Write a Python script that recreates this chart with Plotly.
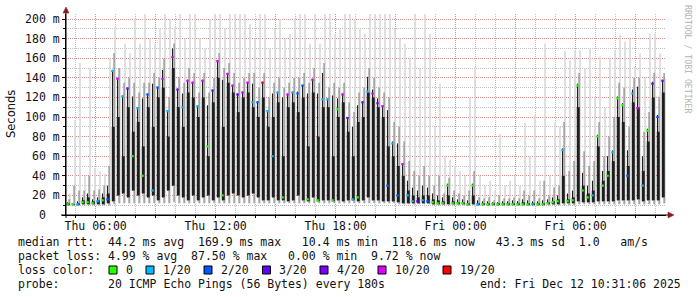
import plotly.graph_objects as go
import pandas as pd

# ---------------- data ----------------
START = "2025-12-11 04:31:06"
END = "2025-12-12 10:31:06"
STEP = pd.Timedelta(minutes=15)          # one bucket = 15 minutes

# top of outer (light) smoke = max ping, ms
top = [22, 97, 155, 40, 150, 48, 45, 42, 160, 192,
       150, 175, 165, 200, 175, 206, 180, 175, 190, 206,
       200, 192, 206, 180, 206, 206, 180, 170, 200, 206,
       206, 190, 206, 206, 206, 206, 195, 180, 206, 206,
       170, 190, 200, 180, 185, 200, 206, 206, 175, 206,
       175, 206, 206, 185, 190, 206, 206, 200, 190, 185,
       206, 206, 206, 206, 206, 190, 180, 175, 160, 206,
       150, 206, 185, 90, 134, 60, 56, 50, 45, 40,
       120, 151, 40, 30, 35, 25, 83, 30, 35, 40,
       30, 94, 60, 102, 35, 175, 40, 94, 90, 167,
       158, 168, 168, 150, 170, 120, 162, 110, 160, 168,
       184, 177, 180, 151, 165, 140, 185, 185, 165, 140]
# top of middle (grey) smoke, ms
mid = [16, 30, 25, 25, 40, 25, 26, 30, 50, 165,
       150, 135, 140, 135, 125, 135, 135, 145, 140, 160,
       120, 175, 140, 135, 150, 145, 125, 145, 125, 140,
       165, 150, 155, 145, 135, 140, 145, 145, 130, 145,
       120, 135, 140, 130, 135, 140, 140, 145, 135, 150,
       135, 155, 130, 135, 130, 135, 115, 105, 125, 130,
       150, 140, 130, 125, 120, 95, 90, 75, 55, 45,
       40, 50, 40, 30, 40, 22, 38, 25, 22, 20,
       25, 45, 18, 17, 18, 15, 20, 17, 17, 18,
       17, 25, 20, 25, 17, 35, 20, 28, 30, 95,
       45, 55, 145, 65, 50, 55, 95, 60, 80, 100,
       135, 130, 90, 140, 140, 85, 105, 145, 120, 145]
# dark core of the smoke: highest reach, bulk top, bottom (ms)
dark_hi = [13, 12, 14, 18, 22, 16, 18, 22, 30, 148,
           140, 122, 130, 121, 110, 119, 124, 134, 131, 148,
           107, 170, 129, 124, 138, 136, 112, 138, 112, 128,
           158, 138, 145, 133, 124, 126, 136, 134, 116, 136,
           107, 124, 126, 120, 124, 126, 126, 133, 124, 139,
           124, 145, 119, 122, 119, 124, 100, 90, 112, 116,
           141, 128, 119, 112, 107, 75, 73, 53, 35, 28,
           25, 30, 28, 22, 20, 18, 32, 18, 16, 16,
           15, 32, 15, 14, 14, 13, 13, 14, 14, 15,
           14, 16, 15, 14, 14, 15, 16, 18, 20, 68,
           22, 25, 134, 43, 30, 35, 82, 45, 60, 66,
           121, 114, 66, 128, 131, 60, 88, 136, 102, 138]
dark_body = [12, 11, 12, 15, 18, 14, 15, 18, 22, 90,
             100, 60, 110, 85, 95, 70, 110, 90, 120, 130,
             80, 150, 110, 90, 125, 120, 100, 120, 60, 115,
             140, 90, 135, 125, 105, 120, 125, 110, 100, 120,
             90, 100, 115, 60, 110, 115, 105, 120, 70, 125,
             80, 110, 110, 60, 100, 115, 85, 60, 95, 100,
             125, 120, 110, 100, 70, 60, 50, 40, 25, 20,
             18, 20, 20, 16, 15, 14, 20, 14, 13, 13,
             12, 20, 12, 12, 12, 12, 12, 12, 12, 12,
             12, 13, 12, 12, 12, 12, 13, 14, 16, 40,
             16, 18, 110, 30, 22, 25, 70, 35, 45, 55,
             100, 95, 50, 115, 110, 45, 75, 120, 85, 125]
dark_lo = [10, 10, 10, 11, 11, 11, 11, 11, 12, 14,
           20, 22, 18, 25, 20, 22, 18, 20, 15, 18,
           25, 30, 20, 18, 15, 20, 15, 18, 20, 15,
           18, 15, 20, 22, 20, 18, 20, 22, 18, 15,
           15, 18, 15, 15, 14, 15, 20, 15, 14, 18,
           14, 15, 15, 14, 15, 14, 15, 15, 14, 15,
           18, 15, 15, 14, 14, 14, 13, 12, 12, 12,
           12, 12, 12, 11, 11, 11, 11, 11, 11, 11,
           10, 11, 10, 10, 10, 10, 10, 10, 10, 10,
           10, 10, 10, 10, 10, 10, 11, 11, 11, 12,
           12, 12, 14, 13, 13, 13, 14, 14, 14, 14,
           15, 15, 15, 15, 16, 14, 15, 15, 15, 18]
# min ping, ms
low = [10, 10, 10, 10, 10, 10, 10, 10, 10, 11,
       12, 12, 12, 12, 12, 12, 12, 12, 12, 12,
       12, 13, 12, 12, 12, 12, 12, 12, 12, 12,
       12, 12, 12, 12, 12, 12, 12, 12, 12, 12,
       12, 12, 12, 12, 12, 12, 12, 12, 12, 12,
       12, 12, 12, 12, 12, 12, 12, 12, 12, 12,
       12, 12, 12, 12, 12, 12, 11, 11, 11, 11,
       11, 11, 11, 10, 10, 10, 10, 10, 10, 10,
       10, 10, 10, 10, 10, 10, 10, 10, 10, 10,
       10, 10, 10, 10, 10, 10, 10, 10, 10, 10,
       10, 10, 11, 11, 11, 11, 11, 11, 11, 11,
       11, 11, 11, 11, 11, 11, 11, 11, 11, 12]
# median rtt, ms
median = [11, 11, 11, 13, 13, 12, 14, 15, 16, 147,
          139, 121, 129, 60, 109, 40, 123, 25, 130, 139,
          106, 161, 128, 110, 137, 135, 111, 137, 70, 127,
          157, 20, 144, 132, 123, 125, 135, 115, 115, 135,
          106, 60, 125, 18, 123, 125, 124, 132, 16, 138,
          15, 118, 118, 15, 108, 123, 99, 16, 18, 115,
          126, 124, 114, 111, 30, 73, 20, 52, 20, 14,
          14, 15, 14, 13, 12, 12, 30, 12, 12, 12,
          11, 30, 11, 11, 11, 11, 11, 11, 11, 11,
          11, 11, 11, 11, 11, 11, 12, 13, 14, 66,
          14, 15, 132, 25, 18, 20, 80, 30, 40, 64,
          119, 112, 40, 124, 109, 30, 86, 134, 100, 137]
# loss class index per bucket (into loss_labels)
loss = [0, 0, 1, 0, 0, 0, 1, 0, 2, 1,
        5, 1, 4, 0, 1, 0, 2, 1, 2, 5,
        1, 5, 4, 1, 5, 5, 1, 5, 0, 4,
        5, 0, 5, 5, 3, 5, 5, 1, 2, 6,
        1, 1, 1, 0, 5, 1, 2, 2, 0, 5,
        0, 1, 1, 0, 0, 5, 4, 1, 0, 4,
        1, 5, 4, 5, 2, 1, 2, 5, 1, 1,
        3, 1, 2, 0, 0, 0, 0, 0, 0, 0,
        0, 0, 1, 0, 0, 0, 0, 0, 0, 0,
        0, 0, 0, 1, 0, 0, 0, 0, 0, 1,
        0, 0, 0, 0, 0, 1, 0, 0, 0, 1,
        0, 0, 2, 1, 5, 1, 0, 4, 2, 4]

loss_labels = ["0", "1/20", "2/20", "3/20", "4/20", "10/20", "19/20"]
loss_colors = ["#26ff00", "#00b8ff", "#0059ff", "#5e00ff", "#7e00ff", "#dd00ff", "#ff0000"]

y_tick_vals = list(range(0, 201, 20))
y_tick_text = ["0\u00a0\u00a0"] + [f"{v} m" for v in range(20, 201, 20)]
x_tick_vals = pd.date_range("2025-12-11 06:00", "2025-12-12 09:00", freq="3h")
x_tick_text = ["Thu 06:00", "", "Thu 12:00", "", "Thu 18:00", "",
               "Fri 00:00", "", "Fri 06:00", ""]

legend_line1 = "median rtt:  44.2 ms avg  169.9 ms max   10.4 ms min  118.6 ms now   43.3 ms sd  1.0   am/s"
legend_line2 = "packet loss: 4.99 % avg  87.50 % max   0.00 % min  9.72 % now"
legend_line3 = "loss color:"
legend_line4 = "probe:       20 ICMP Echo Pings (56 Bytes) every 180s"
end_text = "end: Fri Dec 12 10:31:06 2025"

# ---------------- geometry helpers (pixels -> paper) ----------------
W, H = 697, 297
L, R, T, B = 66, 31, 14, 82
PW, PH = W - L - R, H - T - B
def px(x):
    return (x - L) / PW
def py(y):
    return (H - B - y) / PH

MONO = "DejaVu Sans Mono"
FS = 11.5
nb = lambda s: s.replace(" ", "\u00a0")

times = pd.date_range(START, periods=len(top), freq=STEP) + STEP / 2
step_ms = STEP.total_seconds() * 1000

fig = go.Figure()
def band(lo_vals, hi_vals, color, frac, offset=0.0):
    fig.add_trace(go.Bar(
        x=times, base=lo_vals, y=[h - l for l, h in zip(lo_vals, hi_vals)],
        width=step_ms * frac, offset=step_ms * (offset - frac / 2),
        marker=dict(color=color, line=dict(width=0)),
        hoverinfo="skip", showlegend=False))

band(low, top, "#dcdcdc", 0.35, 0.3)
band(low, mid, "#9a9a9a", 0.3, 0.12)
band(dark_lo, dark_body, "#1e1e1e", 0.58, -0.05)
band(dark_lo, dark_hi, "#1e1e1e", 0.22, -0.2)
fig.add_trace(go.Bar(
    x=times, base=[m - 1.1 for m in median], y=[2.2] * len(median),
    width=step_ms * 0.5, offset=step_ms * (-0.2 - 0.25),
    marker=dict(color=[loss_colors[k] for k in loss], line=dict(width=0)),
    hoverinfo="skip", showlegend=False))

grid_major = "rgba(230,120,120,0.75)"
grid_minor = "rgba(170,170,170,0.75)"
fig.update_layout(
    width=W, height=H, margin=dict(l=L, r=R, t=T, b=B, pad=0),
    paper_bgcolor="white", plot_bgcolor="white",
    barmode="overlay", showlegend=False,
    font=dict(family=MONO, size=FS, color="#111"),
    xaxis=dict(type="date", range=[START, END],
               tickmode="array", tickvals=x_tick_vals, ticktext=x_tick_text,
               showgrid=True, gridcolor=grid_major, griddash="1px,1px", gridwidth=1,
               minor=dict(dtick=3600000, tick0="2025-12-11 05:00", showgrid=True,
                          gridcolor=grid_minor, griddash="1px,1px", gridwidth=1,
                          ticks="outside", ticklen=2, tickcolor="#000"),
               ticks="outside", ticklen=2, tickcolor="#000", ticklabelstandoff=-2,
               showline=True, linecolor="#000", linewidth=1, zeroline=False,
               tickfont=dict(family=MONO, size=FS, color="#111"), fixedrange=True),
    yaxis=dict(range=[0, PH / 0.98],
               tickmode="array", tickvals=y_tick_vals, ticktext=y_tick_text,
               showgrid=True, gridcolor=grid_major, griddash="1px,1px", gridwidth=1,
               minor=dict(dtick=10, showgrid=True, gridcolor=grid_minor,
                          griddash="1px,1px", gridwidth=1,
                          ticks="outside", ticklen=2, tickcolor="#000"),
               ticks="outside", ticklen=3, tickcolor="#000",
               showline=True, linecolor="#000", linewidth=1, zeroline=False,
               tickfont=dict(family=MONO, size=FS, color="#111"), fixedrange=True),
)

ann = []
def text(x, y, s, anchor="left", **kw):
    ann.append(dict(x=px(x), y=py(y), xref="paper", yref="paper", text=nb(s),
                    showarrow=False, xanchor=anchor, yanchor="middle",
                    font=dict(family=MONO, size=FS, color="#111"), **kw))

text(16, 241.5, legend_line1)
text(16, 255.7, legend_line2)
text(16, 269.9, legend_line3)
text(16, 284.1, legend_line4)
text(683, 284.1, end_text, anchor="right")

box_x = [109, 146, 204, 262.5, 320, 378, 443]
shapes = []
for bx, lab, col in zip(box_x, loss_labels, loss_colors):
    shapes.append(dict(type="rect", xref="paper", yref="paper",
                       x0=px(bx), x1=px(bx + 8), y0=py(274), y1=py(266),
                       fillcolor=col, line=dict(color="#000", width=1)))
    text(bx + 14.5, 269.9, lab)

ann.append(dict(x=px(11), y=py(114), xref="paper", yref="paper", text="Seconds",
                showarrow=False, textangle=-90, xanchor="center", yanchor="middle",
                font=dict(family="DejaVu Sans", size=11.5, color="#111")))
ann.append(dict(x=px(688), y=py(59), xref="paper", yref="paper",
                text=nb("RRDTOOL / TOBI OETIKER"),
                showarrow=False, textangle=90, xanchor="center", yanchor="middle",
                font=dict(family=MONO, size=8.2, color="#b4b4b4")))

# axis extensions and arrows
arrow = "#8b1a1a"
shapes += [
    dict(type="line", xref="paper", yref="paper", x0=px(61), x1=px(666), y0=py(215), y1=py(215),
         line=dict(color="#000", width=1)),
    dict(type="line", xref="paper", yref="paper", x0=px(66), x1=px(66), y0=py(218), y1=py(11),
         line=dict(color="#000", width=1)),
    dict(type="line", xref="paper", yref="paper", x0=px(666), x1=px(669), y0=py(215), y1=py(215),
         line=dict(color="#000", width=1)),
    dict(type="path", xref="paper", yref="paper",
         path=f"M {px(668)},{py(212)} L {px(674)},{py(215)} L {px(668)},{py(218)} Z",
         fillcolor=arrow, line=dict(color=arrow, width=0.5)),
    dict(type="path", xref="paper", yref="paper",
         path=f"M {px(63)},{py(13)} L {px(66)},{py(7)} L {px(69)},{py(13)} Z",
         fillcolor=arrow, line=dict(color=arrow, width=0.5)),
]
fig.update_layout(annotations=ann, shapes=shapes)

fig.write_html("out.html", config={"displayModeBar": False, "staticPlot": True})
